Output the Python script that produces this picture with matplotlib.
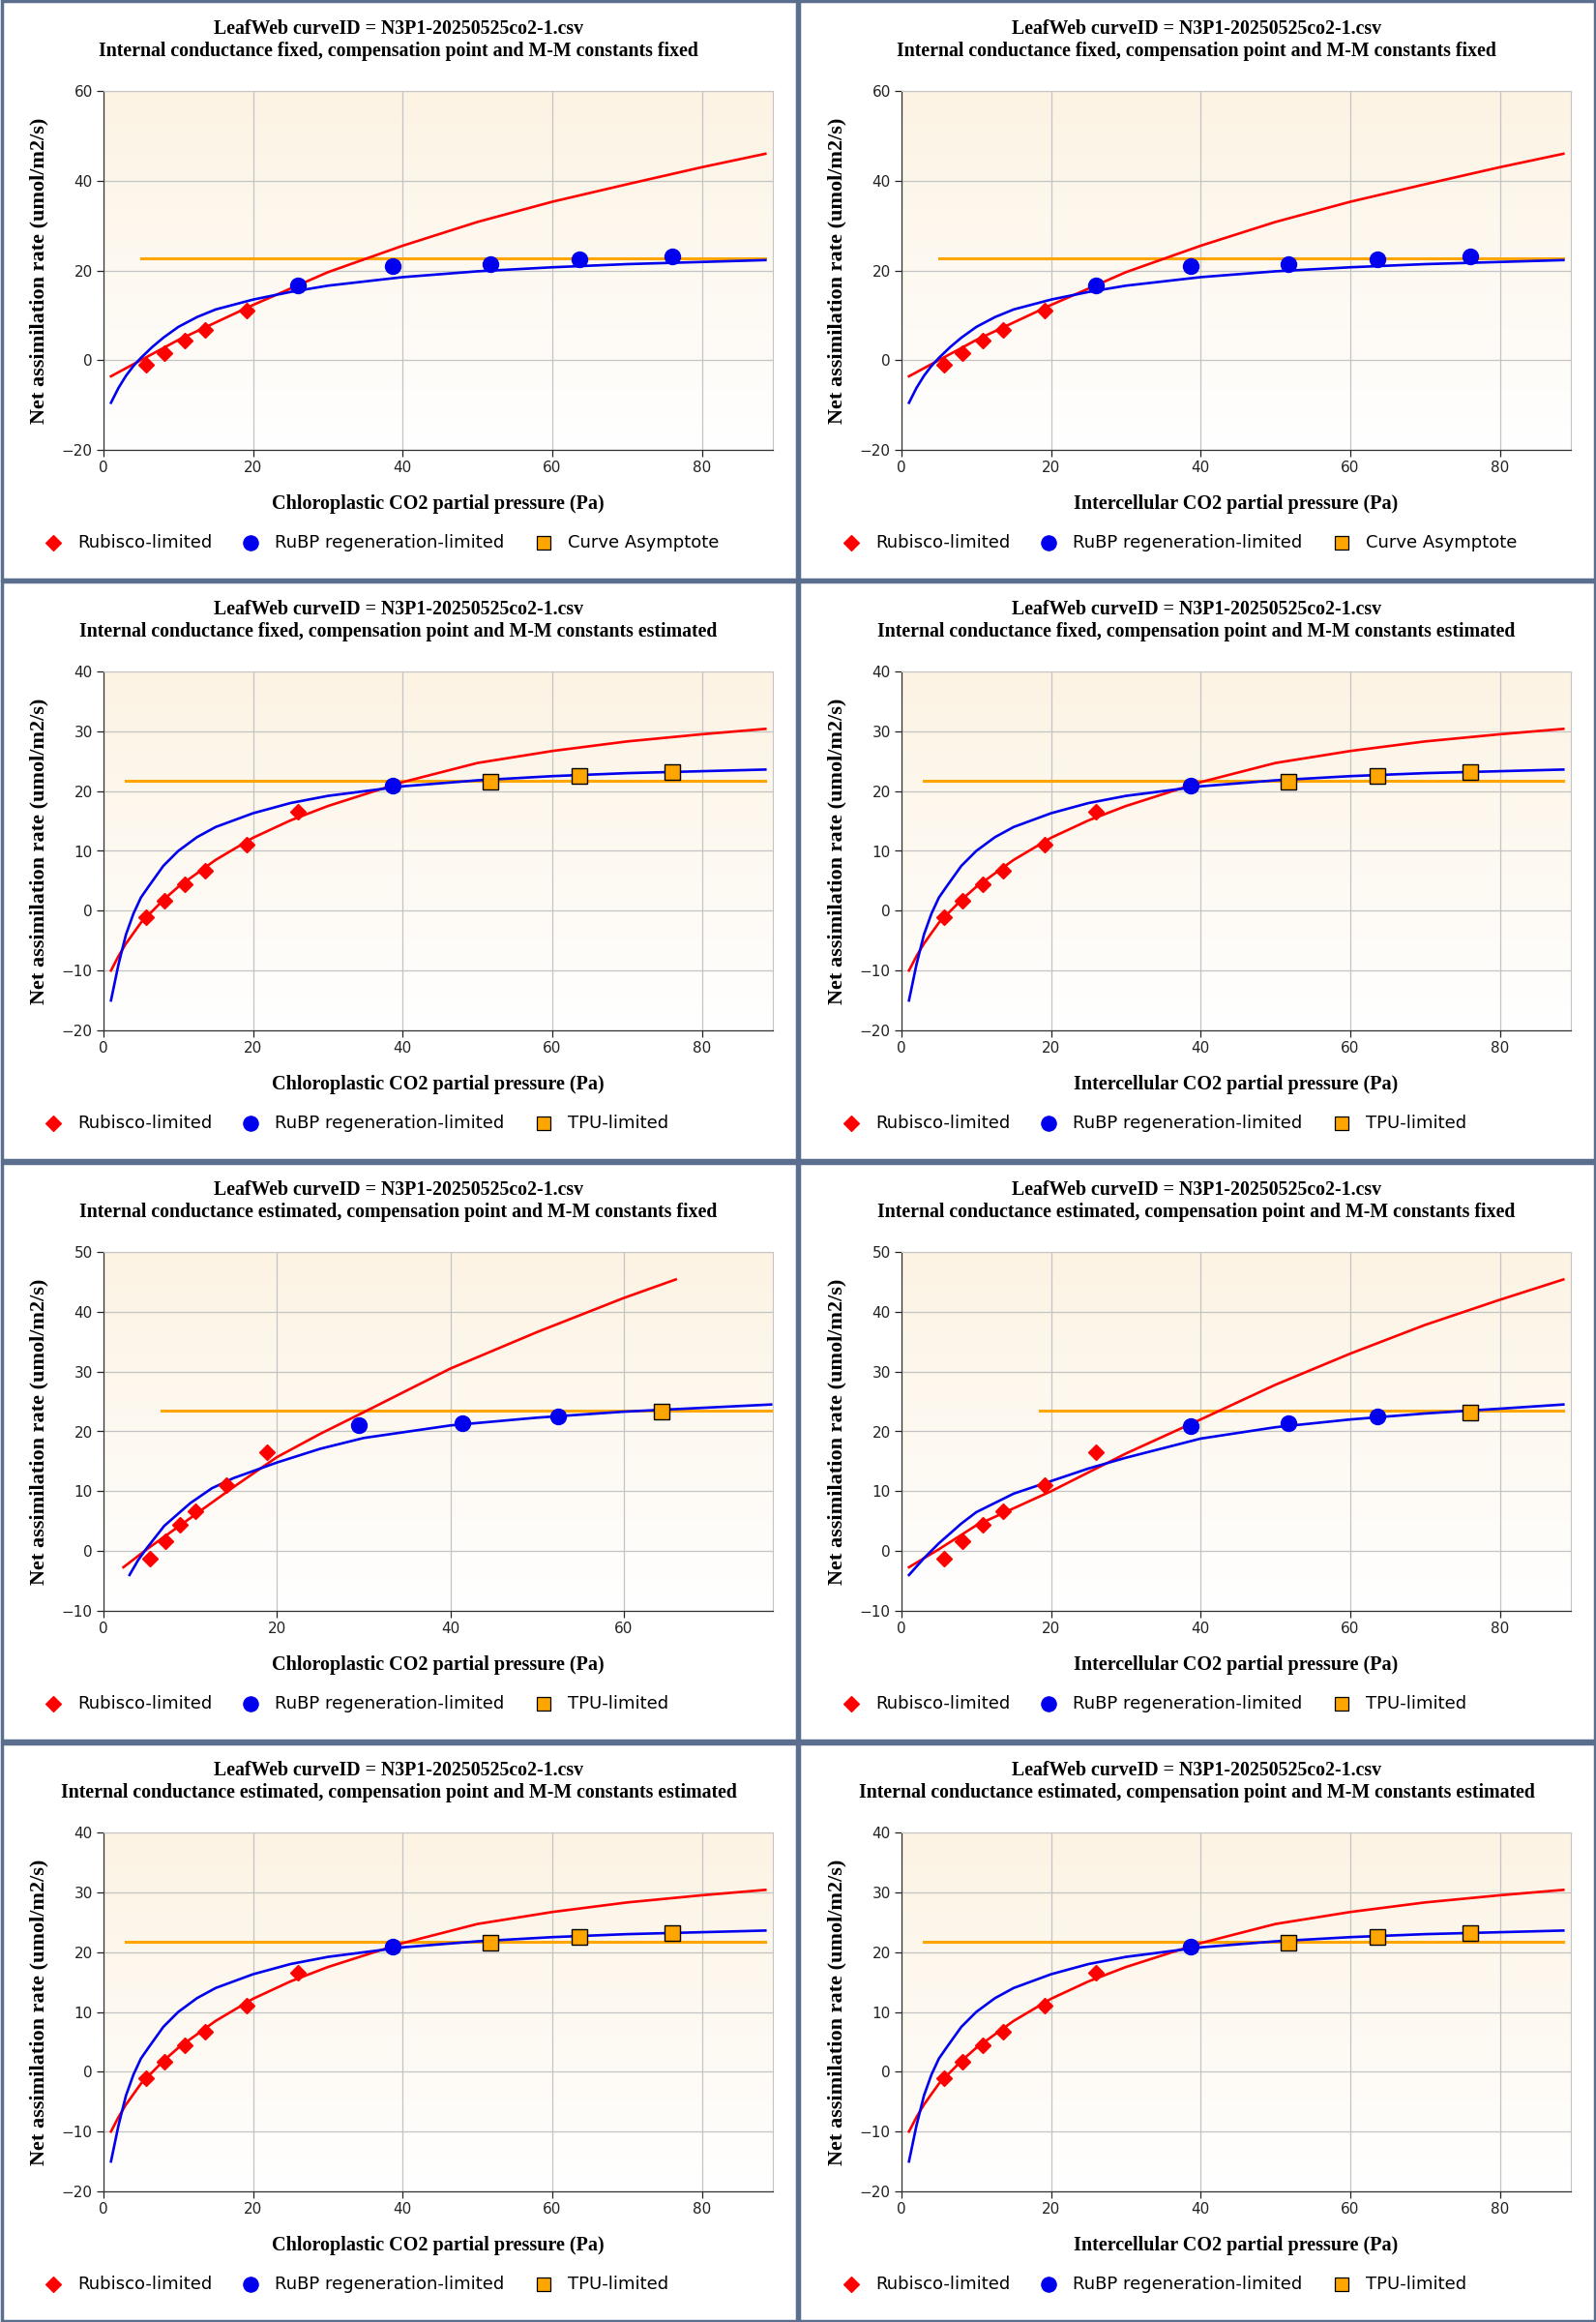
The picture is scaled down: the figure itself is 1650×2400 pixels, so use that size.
import numpy as np
import matplotlib
matplotlib.use("Agg")
import matplotlib.pyplot as plt
from matplotlib.patches import Rectangle
from matplotlib.lines import Line2D

# ---- data ----
title1 = "LeafWeb curveID = N3P1-20250525co2-1.csv"
subtitles = [
    "Internal conductance fixed, compensation point and M-M constants fixed",
    "Internal conductance fixed, compensation point and M-M constants estimated",
    "Internal conductance estimated, compensation point and M-M constants fixed",
    "Internal conductance estimated, compensation point and M-M constants estimated",
]
xlabels = ["Chloroplastic CO2 partial pressure (Pa)", "Intercellular CO2 partial pressure (Pa)"]
ylabel = "Net assimilation rate (umol/m2/s)"

# fixed / fixed (row 1)
ff_rub_x = [5.7, 8.2, 10.9, 13.6, 19.1]
ff_rub_y = [-1.1, 1.6, 4.4, 6.7, 11.1]
ff_rubp_x = [26.0, 38.7, 51.7, 63.6, 76.0]
ff_rubp_y = [16.6, 20.9, 21.3, 22.5, 23.1]
ff_red_x = [1, 10, 20, 30, 40, 50, 60, 70, 80, 88.5]
ff_red_y = [-3.6, 4.5, 12.3, 19.6, 25.5, 30.8, 35.3, 39.2, 43.0, 46.0]
ff_blue_x = [1, 2, 3, 4, 5, 6.5, 8, 10, 12.5, 15, 20, 25, 30, 40, 50, 60, 70, 88.5]
ff_blue_y = [-9.5, -6.2, -3.5, -1.3, 0.5, 2.9, 5.0, 7.4, 9.6, 11.3, 13.5, 15.2, 16.6, 18.5, 19.8, 20.7, 21.4, 22.3]
ff_asym = 22.6
ff_asym_x = [5, 88.5]

# estimated compensation point (rows 2 and 4)
fe_rub_x = [5.7, 8.2, 10.9, 13.6, 19.1, 26.0]
fe_rub_y = [-1.1, 1.6, 4.4, 6.7, 11.1, 16.6]
fe_rubp_x = [38.7]
fe_rubp_y = [20.9]
fe_tpu_x = [51.7, 63.6, 76.0]
fe_tpu_y = [21.5, 22.6, 23.2]
fe_red_x = [1, 2, 3, 5, 8, 10, 15, 20, 25, 30, 40, 50, 60, 70, 80, 88.5]
fe_red_y = [-10.0, -7.6, -5.5, -2.0, 1.8, 4.0, 8.5, 12.2, 15.1, 17.5, 21.5, 24.7, 26.7, 28.3, 29.5, 30.4]
fe_blue_x = [1, 2, 3, 4, 5, 6, 8, 10, 12.5, 15, 20, 25, 30, 40, 50, 60, 70, 88.5]
fe_blue_y = [-15.0, -9.0, -4.0, -0.5, 2.2, 4.0, 7.5, 10.0, 12.3, 14.0, 16.3, 18.0, 19.2, 20.8, 21.8, 22.5, 23.0, 23.6]
fe_tpu_line = 21.8
fe_tpu_line_x = [3, 88.5]

# estimated conductance, chloroplastic (row 3 left)
ec_rub_x = [5.4, 7.1, 8.8, 10.6, 14.2, 18.9]
ec_rub_y = [-1.2, 1.7, 4.4, 6.7, 11.1, 16.6]
ec_rubp_x = [29.4, 41.4, 52.4]
ec_rubp_y = [21.0, 21.4, 22.5]
ec_tpu_x = [64.4]
ec_tpu_y = [23.3]
ec_red_x = [2.3, 5, 10, 15, 20, 25, 30, 40, 50, 60, 66]
ec_red_y = [-2.7, 0.3, 5.5, 10.7, 15.7, 19.6, 23.2, 30.5, 36.6, 42.3, 45.4]
ec_blue_x = [3, 4, 5, 7, 10, 12.5, 15, 20, 25, 30, 40, 50, 60, 77]
ec_blue_y = [-4.0, -1.5, 0.5, 4.2, 8.0, 10.5, 12.2, 14.8, 17.1, 18.9, 21.0, 22.3, 23.3, 24.5]
ec_tpu_line = 23.4
ec_tpu_line_x = [6.7, 77]

# estimated conductance, intercellular (row 3 right)
ei_rub_x = [5.7, 8.2, 10.9, 13.6, 19.1, 26.0]
ei_rub_y = [-1.2, 1.7, 4.4, 6.7, 11.1, 16.6]
ei_rubp_x = [38.7, 51.7, 63.6]
ei_rubp_y = [20.9, 21.4, 22.5]
ei_tpu_x = [76.0]
ei_tpu_y = [23.2]
ei_red_x = [1, 5, 10, 20, 30, 40, 50, 60, 70, 80, 88.5]
ei_red_y = [-2.7, 0.3, 4.3, 10.0, 16.3, 22.0, 27.8, 33.0, 37.8, 42.0, 45.4]
ei_blue_x = [1, 3, 5, 8, 10, 15, 20, 25, 30, 40, 50, 60, 70, 80, 88.5]
ei_blue_y = [-4.0, -1.2, 1.3, 4.6, 6.5, 9.6, 11.7, 13.8, 15.6, 18.8, 20.7, 22.0, 23.0, 23.8, 24.5]
ei_tpu_line = 23.4
ei_tpu_line_x = [18.5, 88.5]

ff = dict(rx=ff_rub_x, ry=ff_rub_y, bx=ff_rubp_x, by=ff_rubp_y, tx=[], ty=[],
          redx=ff_red_x, redy=ff_red_y, bluex=ff_blue_x, bluey=ff_blue_y,
          hline=ff_asym, hx=ff_asym_x, xlim=(0, 89.5), ylim=(-20, 60), yt=[-20, 0, 20, 40, 60],
          xt=[0, 20, 40, 60, 80], third="Curve Asymptote")
fe = dict(rx=fe_rub_x, ry=fe_rub_y, bx=fe_rubp_x, by=fe_rubp_y, tx=fe_tpu_x, ty=fe_tpu_y,
          redx=fe_red_x, redy=fe_red_y, bluex=fe_blue_x, bluey=fe_blue_y,
          hline=fe_tpu_line, hx=fe_tpu_line_x, xlim=(0, 89.5), ylim=(-20, 40),
          yt=[-20, -10, 0, 10, 20, 30, 40], xt=[0, 20, 40, 60, 80], third="TPU-limited")
ec = dict(rx=ec_rub_x, ry=ec_rub_y, bx=ec_rubp_x, by=ec_rubp_y, tx=ec_tpu_x, ty=ec_tpu_y,
          redx=ec_red_x, redy=ec_red_y, bluex=ec_blue_x, bluey=ec_blue_y,
          hline=ec_tpu_line, hx=ec_tpu_line_x, xlim=(0, 77.2), ylim=(-10, 50),
          yt=[-10, 0, 10, 20, 30, 40, 50], xt=[0, 20, 40, 60], third="TPU-limited")
ei = dict(rx=ei_rub_x, ry=ei_rub_y, bx=ei_rubp_x, by=ei_rubp_y, tx=ei_tpu_x, ty=ei_tpu_y,
          redx=ei_red_x, redy=ei_red_y, bluex=ei_blue_x, bluey=ei_blue_y,
          hline=ei_tpu_line, hx=ei_tpu_line_x, xlim=(0, 89.5), ylim=(-10, 50),
          yt=[-10, 0, 10, 20, 30, 40, 50], xt=[0, 20, 40, 60, 80], third="TPU-limited")

layout = [[ff, ff], [fe, fe], [ec, ei], [fe, fe]]

W, H = 1650, 2400
PW, PH = 825, 600
fig = plt.figure(figsize=(W / 100, H / 100), dpi=100)
fig.patch.set_facecolor("white")

grad = np.linspace(0, 1, 256).reshape(-1, 1)
top = np.array([252, 243, 227]) / 255.0
bot = np.array([255, 255, 255]) / 255.0
grad_img = top[None, None, :] * (1 - grad[:, :, None]) + bot[None, None, :] * grad[:, :, None]

serif = "Liberation Serif"


def fx(px):
    return px / W


def fy(py):
    return 1 - py / H


for r in range(4):
    for c in range(2):
        d = layout[r][c]
        x0 = c * PW
        y0 = r * PH
        # panel border
        fig.add_artist(Rectangle((fx(x0 + 1.5), fy(y0 + PH - 1.5)), (PW - 3) / W, (PH - 3) / H,
                                 transform=fig.transFigure, fill=False, ec="#5b6e8e", lw=2.5))
        ax = fig.add_axes([fx(x0 + 107), fy(y0 + 465), 692 / W, 371 / H])
        ax.imshow(grad_img, extent=[0, 1, 0, 1], transform=ax.transAxes, aspect="auto", zorder=0)
        ax.set_xlim(*d["xlim"])
        ax.set_ylim(*d["ylim"])
        ax.set_xticks(d["xt"])
        ax.set_yticks(d["yt"])
        ax.grid(True, color="#c4c4c4", lw=0.9, zorder=1)
        ax.set_axisbelow(True)
        for s in ["top", "right"]:
            ax.spines[s].set_color("#c4c4c4")
        for s in ["left", "bottom"]:
            ax.spines[s].set_color("#333333")
            ax.spines[s].set_linewidth(0.9)
        ax.tick_params(labelsize=11, length=5, width=0.9, colors="#222222", pad=3)

        ax.plot(d["hx"], [d["hline"]] * 2, color="#ffa500", lw=2.2, zorder=3)
        ax.plot(d["redx"], d["redy"], color="#ff0000", lw=1.9, zorder=4)
        ax.plot(d["bluex"], d["bluey"], color="#0000ee", lw=1.9, zorder=4)
        ax.plot(d["rx"], d["ry"], ls="none", marker="D", ms=8.5, color="#ff0000", zorder=5)
        ax.plot(d["bx"], d["by"], ls="none", marker="o", ms=11.5, color="#0000ee", zorder=5)
        if d["tx"]:
            ax.plot(d["tx"], d["ty"], ls="none", marker="s", ms=11, mfc="#ffa500", mec="black",
                    mew=1.0, zorder=5)

        ax.set_ylabel(ylabel, fontfamily=serif, fontweight="bold", fontsize=16, labelpad=10)
        ax.set_xlabel(xlabels[c], fontfamily=serif, fontweight="bold", fontsize=14.5, labelpad=14)

        cx = x0 + 412
        fig.text(fx(cx), fy(y0 + 30), title1, ha="center", va="center",
                 fontfamily=serif, fontweight="bold", fontsize=14.3)
        fig.text(fx(cx), fy(y0 + 53), subtitles[r], ha="center", va="center",
                 fontfamily=serif, fontweight="bold", fontsize=14.3)

        # legend row
        ly = fy(y0 + 561)
        items = [("D", "#ff0000", "none", 8, "Rubisco-limited", 55),
                 ("o", "#0000ee", "none", 11, "RuBP regeneration-limited", 259),
                 ("s", "#ffa500", "black", 10.5, d["third"], 562)]
        for mk, col, edge, ms, txt, mx in items:
            fig.add_artist(Line2D([fx(x0 + mx)], [ly], marker=mk, ms=ms, mfc=col,
                                  mec=(col if edge == "none" else edge), mew=0.9,
                                  ls="none", transform=fig.transFigure))
            fig.text(fx(x0 + mx + 25), ly, txt, ha="left", va="center",
                     fontfamily="DejaVu Sans", fontsize=13)

fig.savefig("out.png", dpi=100)
